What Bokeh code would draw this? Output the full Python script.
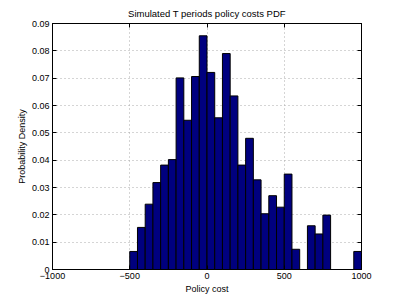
from bokeh.plotting import figure
from bokeh.models import LinearAxis, FixedTicker, Range1d, ColumnDataSource
from bokeh.embed import file_html
from bokeh.resources import INLINE

# Histogram data (bin width 50)
bin_left = [-500, -450, -400, -350, -300, -250, -200, -150, -100, -50,
            0, 50, 100, 150, 200, 250, 300, 350, 400, 450,
            500, 550, 600, 650, 700, 750, 800, 850, 900, 950]
density = [0.0066, 0.0154, 0.0239, 0.0318, 0.0382, 0.0402, 0.0701, 0.0546, 0.0706, 0.0855,
           0.0721, 0.0555, 0.0790, 0.0635, 0.0382, 0.0480, 0.0328, 0.0204, 0.0270, 0.0228,
           0.0349, 0.0074, 0.0, 0.0160, 0.0130, 0.0199, 0.0, 0.0, 0.0, 0.0066]
bin_width = 50

x_ticks = [-1000, -500, 0, 500, 1000]
x_tick_labels = ["\u22121000", "\u2212500", "0", "500", "1000"]
y_ticks = [0, 0.01, 0.02, 0.03, 0.04, 0.05, 0.06, 0.07, 0.08, 0.09]
y_tick_labels = ["0", "0.01", "0.02", "0.03", "0.04", "0.05", "0.06", "0.07", "0.08", "0.09"]

FONT = "Liberation Sans"
FS = "9px"

src = ColumnDataSource(dict(
    left=bin_left,
    right=[b + bin_width for b in bin_left],
    top=density,
    bottom=[0] * len(density),
))

p = figure(output_backend="svg", toolbar_location=None,
           x_range=Range1d(-1000, 1000), y_range=Range1d(0, 0.09),
           min_border_left=52, min_border_right=20, min_border_top=12, min_border_bottom=20,
           frame_width=309, frame_height=246,
           title="Simulated T periods policy costs PDF")
p.title.align = "center"
p.title.text_font = FONT
p.title.text_font_size = "9.5px"
p.title.text_font_style = "normal"
p.title.text_color = "black"

p.quad(left="left", right="right", top="top", bottom="bottom", source=src,
       fill_color="#00007F", line_color="black", line_width=1)

p.outline_line_color = "black"
p.outline_line_alpha = 1.0

for ax, ticks, labels in ((p.xaxis[0], x_ticks, x_tick_labels), (p.yaxis[0], y_ticks, y_tick_labels)):
    ax.ticker = FixedTicker(ticks=ticks)
    ax.major_label_overrides = {t: l for t, l in zip(ticks, labels)}
    ax.major_label_text_font = FONT
    ax.major_label_text_font_size = FS
    ax.major_label_text_color = "black"
    ax.axis_label_text_font = FONT
    ax.axis_label_text_font_size = FS
    ax.axis_label_text_font_style = "normal"
    ax.axis_label_text_color = "black"
    ax.major_tick_in = 4
    ax.major_tick_out = 0
    ax.minor_tick_line_color = None
    ax.axis_line_color = "black"
    ax.major_tick_line_color = "black"
    ax.major_label_standoff = 3
    ax.axis_label_standoff = 2

p.xaxis.axis_label = "Policy cost"
p.yaxis.axis_label = "Probability Density"

for loc, ticks in (("above", x_ticks), ("right", y_ticks)):
    ax = LinearAxis(ticker=FixedTicker(ticks=ticks),
                    major_label_overrides={t: "" for t in ticks},
                    major_tick_in=4, major_tick_out=0, minor_tick_line_color=None,
                    major_label_standoff=0, axis_line_color="black")
    p.add_layout(ax, loc)

p.xgrid.ticker = FixedTicker(ticks=x_ticks)
p.ygrid.ticker = FixedTicker(ticks=y_ticks)
p.grid.grid_line_color = "#aaaaaa"
p.grid.grid_line_dash = "1 3"
p.grid.grid_line_width = 1

open("out.html", "w").write(file_html(p, INLINE))
